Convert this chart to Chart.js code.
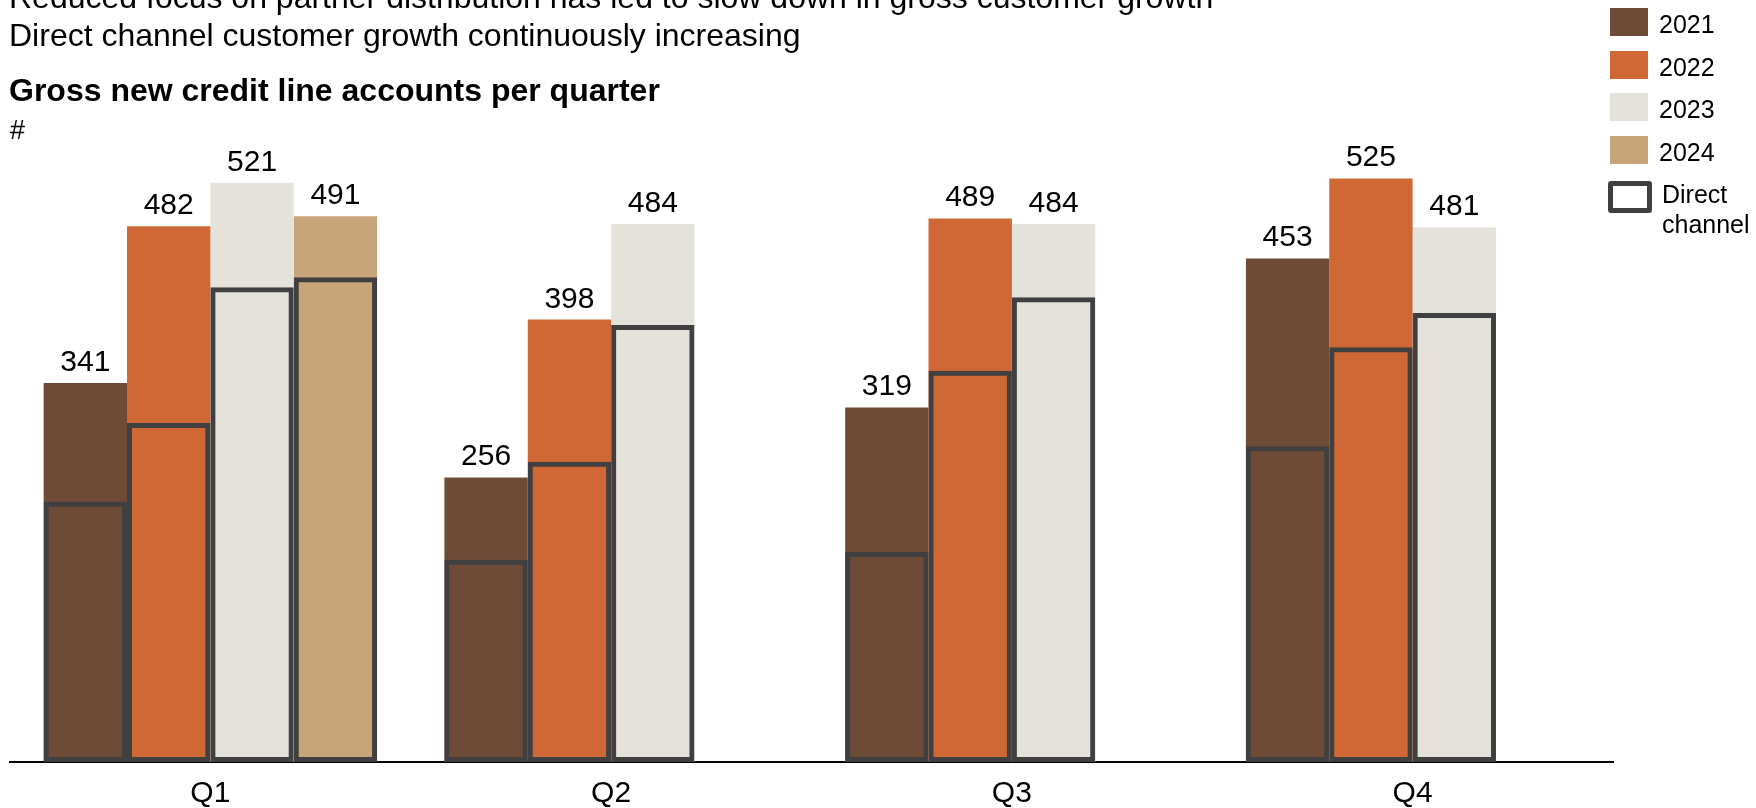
<!DOCTYPE html>
<html><head><meta charset="utf-8">
<script src="https://cdn.jsdelivr.net/npm/chart.js@4.4.1/dist/chart.umd.min.js"></script>
<style>
html,body{margin:0;padding:0;background:#fff;overflow:hidden;}
#wrap{position:relative;width:1756px;height:808px;overflow:hidden;}
#chartBox{position:absolute;left:0;top:0;width:1756px;height:808px;}
.t{position:absolute;white-space:nowrap;font-family:'Liberation Sans',Arial,sans-serif;color:#000;}
.sw{position:absolute;box-sizing:border-box;}
</style></head><body>
<div id="wrap">
  <div id="chartBox"><canvas id="c"></canvas></div>
</div>
<script>
// ---- data ----
const categories = ['Q1', 'Q2', 'Q3', 'Q4'];
const years = ['2021', '2022', '2023', '2024'];
const total2021 = [341, 256, 319, 453];
const total2022 = [482, 398, 489, 525];
const total2023 = [521, 484, 484, 481];
const total2024 = [491, null, null, null];
const direct2021 = [234, 182, 189, 284];
const direct2022 = [305, 270, 352, 373];
const direct2023 = [427, 393, 418, 404];
const direct2024 = [436, null, null, null];
const headline1 = 'Reduced focus on partner distribution has led to slow down in gross customer growth';
const headline2 = 'Direct channel customer growth continuously increasing';
const chartTitle = 'Gross new credit line accounts per quarter';
const unitLabel = '#';
const directLabel = ['Direct', 'channel'];

// ---- styles ----
const yearColors = ['#6D4B37', '#CF6834', '#E5E2DB', '#C8A579'];
const outlineColor = '#404040';
const FONT = "'Liberation Sans', Arial, sans-serif";

const totals = [total2021, total2022, total2023, total2024];
const directs = [direct2021, direct2022, direct2023, direct2024];

const datasets = [];
// outline (direct channel) datasets first so they are drawn on top
years.forEach((y, i) => {
  datasets.push({
    label: 'Direct ' + y,
    data: directs[i],
    stack: 's' + y,
    backgroundColor: 'rgba(0,0,0,0)',
    borderColor: outlineColor,
    borderWidth: 5,
    borderSkipped: false,
    isDirect: true
  });
});
years.forEach((y, i) => {
  datasets.push({
    label: y,
    data: totals[i],
    stack: 's' + y,
    backgroundColor: yearColors[i],
    borderWidth: 0,
    isDirect: false
  });
});

const valueLabels = {
  id: 'valueLabels',
  afterDatasetsDraw(chart) {
    const ctx = chart.ctx;
    ctx.save();
    ctx.font = '30px ' + FONT;
    ctx.fillStyle = '#000';
    ctx.textAlign = 'center';
    ctx.textBaseline = 'alphabetic';
    chart.data.datasets.forEach((ds, di) => {
      if (ds.isDirect) return;
      const meta = chart.getDatasetMeta(di);
      meta.data.forEach((el, j) => {
        const v = ds.data[j];
        if (v === null || v === undefined) return;
        ctx.fillText(String(v), el.x, el.y - 12);
      });
    });
    ctx.restore();
  }
};

new Chart(document.getElementById('c'), {
  type: 'bar',
  data: { labels: categories, datasets },
  options: {
    responsive: true,
    maintainAspectRatio: false,
    animation: false,
    events: [],
    layout: { padding: { left: 10, right: 143, top: 95, bottom: 0 } },
    datasets: { bar: { barPercentage: 1.0, categoryPercentage: 0.832 } },
    plugins: { legend: { display: false }, tooltip: { enabled: false }, title: { display: false } },
    scales: {
      x: {
        grid: { display: false, drawTicks: false },
        border: { display: true, color: '#000', width: 2 },
        ticks: { color: '#000', padding: 17, font: { family: FONT, size: 30, lineHeight: 1 } },
        afterFit(scale) { scale.height = 46; }
      },
      y: {
        display: false,
        stacked: false,
        min: 0,
        max: 600
      }
    }
  },
  plugins: [valueLabels]
});

// ---- HTML text (headlines, title, legend) ----
const wrap = document.getElementById('wrap');
function placeText(text, x, baseline, size, weight) {
  const d = document.createElement('div');
  d.className = 't';
  d.textContent = text;
  d.style.fontSize = size + 'px';
  d.style.lineHeight = size + 'px';
  d.style.fontWeight = weight || 'normal';
  d.style.left = x + 'px';
  d.style.top = (baseline - 0.8465 * size) + 'px';
  wrap.appendChild(d);
}
placeText(headline1, 9, 8, 32);
placeText(headline2, 9, 46, 32);
placeText(chartTitle, 9, 101, 32, 'bold');
placeText(unitLabel, 10, 140, 27);

const legendTops = [8, 51, 93, 136];
years.forEach((y, i) => {
  const b = document.createElement('div');
  b.className = 'sw';
  b.style.left = '1610px';
  b.style.top = legendTops[i] + 'px';
  b.style.width = '38px';
  b.style.height = '28px';
  b.style.background = yearColors[i];
  wrap.appendChild(b);
  placeText(y, 1659, legendTops[i] + 25, 25);
});
const ob = document.createElement('div');
ob.className = 'sw';
ob.style.left = '1608px';
ob.style.top = '181px';
ob.style.width = '44px';
ob.style.height = '32px';
ob.style.border = '5px solid ' + outlineColor;
ob.style.borderRadius = '3px';
ob.style.background = '#fff';
wrap.appendChild(ob);
placeText(directLabel[0], 1662, 203, 25);
placeText(directLabel[1], 1662, 233, 25);
</script>
</body></html>
